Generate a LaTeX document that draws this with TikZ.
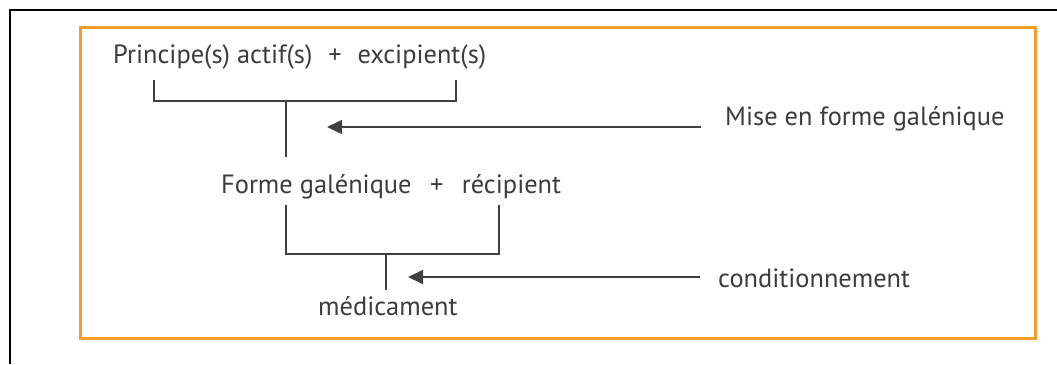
\documentclass[tikz,border=0pt]{standalone}
\usepackage{fontspec}
\setmainfont{PT Sans}
\usetikzlibrary{arrows.meta}
\definecolor{frameorange}{RGB}{247,158,40}
\definecolor{ink}{RGB}{60,60,62}
\definecolor{linegray}{RGB}{64,64,64}
\tikzset{
  lbl/.style={inner sep=0pt, anchor=base west, text=ink, font=\fontsize{26.4}{30}\selectfont},
  bracket/.style={draw=linegray, line width=1.6pt},
  flow/.style={draw=linegray, line width=1.6pt, -{Triangle[length=15pt,width=14pt]}}
}
\begin{document}
\begin{tikzpicture}[x=1pt,y=-1pt]
\useasboundingbox (0,0) rectangle (1057,364);
% outer black frame
\draw[line width=1.5pt, black] (10,364) -- (10,10) -- (1057,10);
% orange frame
\draw[frameorange, line width=3pt] (80,27) rectangle (1035,338);

% texts
\node[lbl] (pa) at (113,63) {Principe(s) actif(s)\hspace{0.6em}+\hspace{0.6em}excipient(s)};
\node[lbl] (mise) at (725,125) {Mise en forme galénique};
\node[lbl] (fg) at (221,193) {Forme galénique\hspace{0.7em}+\hspace{0.7em}récipient};
\node[lbl] (cond) at (718,287) {conditionnement};
\node[lbl] (med) at (318,315) {médicament};

% bracket 1
\coordinate (b1l) at (154,80);
\coordinate (b1r) at (456,80);
\coordinate (b1m) at (286,101);
\coordinate (s1e) at (286,157);
\draw[bracket] (b1l) |- (b1r |- b1m) -- (b1r);
\draw[bracket] (b1m) -- (s1e);

% arrow 1
\coordinate (a1s) at (701,127);
\coordinate (a1e) at (327,127);
\draw[flow] (a1s) -- (a1e);

% bracket 2
\coordinate (b2l) at (286,205);
\coordinate (b2r) at (499,205);
\coordinate (b2m) at (386,254);
\coordinate (s2e) at (386,290);
\draw[bracket] (b2l) |- (b2r |- b2m) -- (b2r);
\draw[bracket] (b2m) -- (s2e);

% arrow 2
\coordinate (a2s) at (700,277);
\coordinate (a2e) at (408,277);
\draw[flow] (a2s) -- (a2e);
\end{tikzpicture}
\end{document}
